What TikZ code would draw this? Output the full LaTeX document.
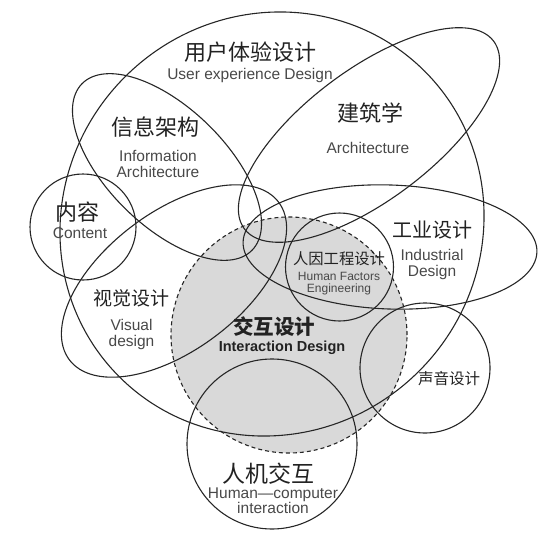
\documentclass[tikz,border=0pt]{standalone}
\usepackage{fontspec}
\setmainfont{Liberation Sans}
\newfontfamily\cjk{Noto Sans CJK SC}
\usetikzlibrary{positioning}
\definecolor{line1}{RGB}{38,38,38}
\definecolor{fill1}{RGB}{217,217,217}
\definecolor{text1}{RGB}{34,34,34}
\definecolor{text2}{RGB}{72,72,72}

\begin{document}
\begin{tikzpicture}[x=1pt, y=1pt]

\tikzstyle{ring}	=[draw=line1, line width=1.1pt]
\tikzstyle{core}	=[ring, dash pattern=on 4pt off 3pt, fill=fill1]
\tikzstyle{zh}		=[inner sep=0pt, text=text1]
\tikzstyle{en}		=[inner sep=0pt, text=text2, font=\fontsize{15.5}{15.5}\selectfont, text height=11.1pt, text depth=3.3pt]
\tikzstyle{ensmall}	=[inner sep=0pt, text=text2, font=\fontsize{12}{12}\selectfont, text height=8.6pt, text depth=2.5pt]

\useasboundingbox (0,0) rectangle (559,542);

% interaction design, shaded
\draw[core] (289,207) circle (118);

\draw[ring] (272,318) ellipse [x radius=216, y radius=208, rotate=45];	% user experience
\draw[ring] (167,375) ellipse [x radius=119, y radius=59, rotate=-44.4];	% information architecture
\draw[ring] (369,407) ellipse [x radius=156, y radius=65, rotate=37];	% architecture
\draw[ring] (174,261) ellipse [x radius=131, y radius=69, rotate=37];	% visual design
\draw[ring] (390,295) ellipse [x radius=147, y radius=62, rotate=-2];	% industrial design
\draw[ring] (83,315) circle (53);	% content
\draw[ring] (339.5,275) circle (54);	% human factors
\draw[ring] (425,174) circle (65);	% sound
\draw[ring] (272,98) circle (85);	% human-computer

\node[zh, font=\cjk\fontsize{22}{22}\selectfont]	(ux)	at (250,490)	{用户体验设计};
\node[en, below=6pt of ux]	(uxen)	{User experience Design};

\node[zh, font=\cjk\fontsize{22}{22}\selectfont]	(ia)	at (155,415)	{信息架构};
\node[en, below=12.5pt of ia, xshift=3pt]	(iaen1)	{Information};
\node[en, below=1pt of iaen1]	(iaen2)	{Architecture};

\node[zh, font=\cjk\fontsize{22}{22}\selectfont]	(arch)	at (370,429)	{建筑学};
\node[en, below=18.5pt of arch, xshift=-2pt]	(archen)	{Architecture};

\node[zh, font=\cjk\fontsize{22}{22}\selectfont]	(cont)	at (77.5,329.5)	{内容};
\node[en, below=4pt of cont, xshift=2.5pt]	(conten)	{Content};

\node[zh, font=\cjk\fontsize{20}{20}\selectfont]	(ind)	at (432,312)	{工业设计};
\node[en, below=10pt of ind]	(inden1)	{Industrial};
\node[en, below=1pt of inden1]	(inden2)	{Design};

\node[zh, font=\cjk\fontsize{15.3}{15.3}\selectfont]	(hf)	at (339,283.5)	{人因工程设计};
\node[ensmall, below=6pt of hf]	(hfen1)	{Human Factors};
\node[ensmall, below=0pt of hfen1]	(hfen2)	{Engineering};

\node[zh, font=\cjk\fontsize{19}{19}\selectfont]	(vis)	at (131.5,243.5)	{视觉设计};
\node[en, below=12pt of vis]	(visen1)	{Visual};
\node[en, below=1pt of visen1]	(visen2)	{design};

\node[zh, font=\cjk\bfseries\fontsize{20.5}{20.5}\selectfont]	(ixd)	at (274,215)	{交互设计};
\node[en, text=text1, font=\bfseries\fontsize{14.5}{14.5}\selectfont, below=3.5pt of ixd, xshift=8pt]	(ixden)	{Interaction Design};

\node[zh, font=\cjk\fontsize{15.5}{15.5}\selectfont]	(snd)	at (449,163)	{声音设计};

\node[zh, font=\cjk\fontsize{23}{23}\selectfont]	(hci)	at (268,68)	{人机交互};
\node[en, below=2pt of hci, xshift=5pt]	(hcien1)	{Human—computer};
\node[en, below=0.5pt of hcien1]	(hcien2)	{interaction};

\end{tikzpicture}
\end{document}
